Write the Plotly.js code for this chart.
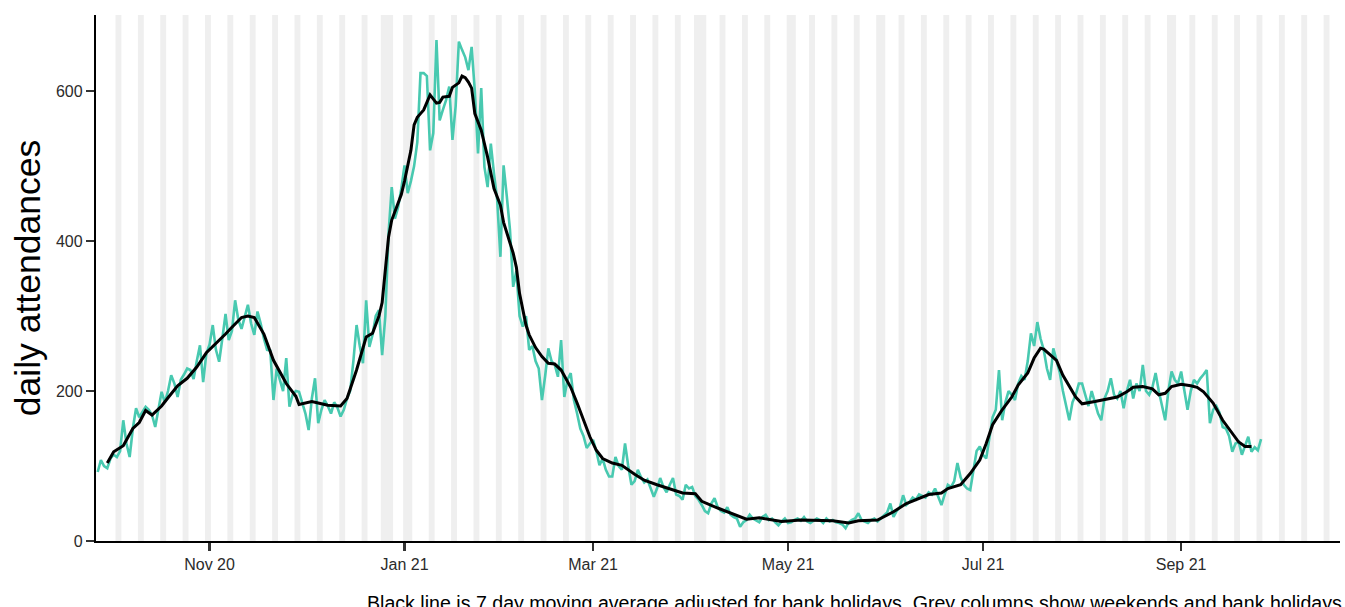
<!DOCTYPE html>
<html><head><meta charset="utf-8">
<script src="https://cdn.plot.ly/plotly-3.0.1.min.js"></script>
<style>body{margin:0;background:#fff;} #chart{width:1345px;height:607px;}</style>
</head><body><div id="chart"></div>
<script>
// ---- data ----
const startDate = '2020-09-27';           // first day of the daily series
// daily attendances, one value per day from startDate (rows = weeks Sun..Sat)
const dailyAttendances = [
  92,108,100,97,110,115,112,
  120,161,130,112,150,177,165,
  172,179,175,168,152,175,199,
  185,200,221,210,192,215,222,
  230,228,216,240,261,212,250,
  262,288,255,239,270,303,268,
  280,321,295,283,300,315,290,
  275,306,290,270,255,254,188,
  230,215,200,244,179,195,200,
  199,185,170,148,190,217,157,
  175,188,180,170,185,178,166,
  175,190,200,240,288,260,237,
  321,259,275,300,308,248,300,
  410,472,430,445,470,501,464,
  480,500,532,624,624,620,521,
  544,668,561,575,588,606,535,
  580,666,655,645,628,659,600,
  517,604,499,472,530,490,455,
  379,501,460,415,339,360,300,
  286,300,255,260,240,230,188,
  220,257,240,235,219,268,192,
  215,224,188,170,150,140,124,
  130,135,120,101,110,95,86,
  86,112,100,95,130,100,75,
  80,95,85,78,82,70,59,
  70,84,72,65,75,84,62,
  60,55,75,70,72,60,55,
  48,40,37,50,57,45,40,
  38,45,35,32,30,19,25,
  28,35,30,27,25,32,35,
  28,30,25,21,26,30,24,
  25,28,30,27,32,26,24,
  27,30,28,24,30,26,28,
  25,24,22,17,25,28,30,
  37,28,26,24,28,30,26,
  30,35,38,50,32,40,45,
  61,48,52,58,55,62,60,
  58,65,62,70,60,48,62,
  75,72,80,104,85,75,70,
  68,95,120,126,115,110,140,
  165,175,228,161,185,200,195,
  188,210,220,215,240,277,260,
  292,270,255,230,215,257,240,
  225,200,180,161,185,195,210,
  210,195,180,200,185,170,161,
  190,200,217,195,190,200,177,
  200,215,190,210,200,235,200,
  195,205,224,200,180,161,200,
  226,215,210,226,200,175,200,
  215,210,217,222,228,157,175,
  180,171,152,150,140,119,130,
  132,115,128,139,119,125,121,
  136
];
// 7 day moving average: day offset from startDate and value
const maDay = [3,5,8,11,13,15,17,20,22,25,28,31,34,36,40,42,45,47,49,52,55,59,62,63,67,70,72,76,78,81,84,86,88,89,90,91,92,93,94,95,96,97,98,99,100,101,102,104,105,106,107,108,110,111,113,114,115,116,117,118,120,122,124,126,127,130,131,132,134,135,137,139,141,143,145,148,150,152,154,156,158,161,164,168,171,175,179,183,187,189,194,197,200,203,207,210,214,220,226,230,235,238,244,246,249,253,258,260,264,266,270,273,276,278,280,283,286,288,291,293,295,296,300,302,306,308,312,315,319,322,324,327,330,332,334,336,339,342,344,346,349,352,355,357,359,361];
const maValue = [104,119,127,150,158,174,168,180,191,207,217,232,251,259,276,285,298,300,298,276,241,210,193,182,186,183,181,180,190,228,272,277,300,318,360,405,428,440,452,462,480,500,521,555,565,570,575,595,590,584,585,592,593,605,611,620,618,612,604,570,548,512,470,448,425,384,365,330,288,275,258,246,237,236,228,205,184,161,139,121,110,104,101,89,81,75,69,64,63,53,44,39,33,29,31,29,26,28,28,27,24,27,28,32,39,50,59,62,64,70,75,90,108,130,155,175,192,208,224,244,257,256,241,221,192,183,186,189,192,199,205,206,203,195,197,206,209,207,205,199,184,161,144,132,126,126];
const bankHolidays = ['2020-12-25','2020-12-28','2021-01-01','2021-04-02','2021-04-05','2021-05-03','2021-05-31','2021-08-30'];
const tickDates = ['2020-11-01','2021-01-01','2021-03-01','2021-05-01','2021-07-01','2021-09-01'];
const tickLabels = ['Nov 20','Jan 21','Mar 21','May 21','Jul 21','Sep 21'];
const yTickValues = [0,200,400,600];
const captionText = 'Black line is 7 day moving average adjusted for bank holidays. Grey columns show weekends and bank holidays';

// ---- helpers ----
const DAY = 864e5;
const t0 = Date.parse(startDate + 'T00:00:00Z');
function dayStr(d){ return new Date(t0 + d*DAY).toISOString().replace('T',' ').replace('Z',''); }
function isoDay(ms){ return new Date(ms).toISOString().slice(0,10); }

const dailyDates = dailyAttendances.map((_, i) => dayStr(i).slice(0,10));
const maDates = maDay.map(d => dayStr(d).slice(0,10));

// grey columns: weekends + bank holidays, merged into runs
const colStart = Date.parse('2020-10-03T00:00:00Z');
const colEnd = Date.parse('2021-10-17T00:00:00Z');
const greyDays = [];
for (let t = colStart; t <= colEnd; t += DAY) {
  const wd = new Date(t).getUTCDay();
  const s = isoDay(t);
  if (wd === 0 || wd === 6 || bankHolidays.includes(s)) greyDays.push((t - t0)/DAY);
}
const runs = [];
greyDays.forEach(d => {
  const last = runs[runs.length-1];
  if (last && d === last[1] + 1) last[1] = d; else runs.push([d, d]);
});
const shapes = runs.map(r => ({
  type:'rect', xref:'x', yref:'paper', x0: dayStr(r[0]-0.42), x1: dayStr(r[1]+0.42), y0:0, y1:1,
  fillcolor:'#efefef', line:{width:0}, layer:'below'
}));

const traces = [
  {x: dailyDates, y: dailyAttendances, type:'scatter', mode:'lines',
   line:{color:'#48c9b0', width:2.6}, hoverinfo:'skip', showlegend:false},
  {x: maDates, y: maValue, type:'scatter', mode:'lines',
   line:{color:'#000000', width:3}, hoverinfo:'skip', showlegend:false}
];

const tickFont = {family:'Liberation Sans, Arial, sans-serif', size:16, color:'#2b2b2b'};
const layout = {
  width:1345, height:607,
  margin:{l:96, r:5, t:15, b:66},
  paper_bgcolor:'#ffffff', plot_bgcolor:'#ffffff',
  showlegend:false,
  font:{family:'Liberation Sans, Arial, sans-serif'},
  xaxis:{type:'date', range:[dayStr(-0.53), dayStr(388.7)], showgrid:false, zeroline:false,
    showline:true, linecolor:'#000', linewidth:2.2, ticks:'outside', ticklen:8, tickwidth:2.2, tickcolor:'#333',
    tickmode:'array', tickvals:tickDates, ticktext:tickLabels, tickfont:tickFont},
  yaxis:{range:[0,701.5], showgrid:false, zeroline:false,
    showline:true, linecolor:'#000', linewidth:2.2, ticks:'outside', ticklen:8, tickwidth:2.2, tickcolor:'#333',
    tickmode:'array', tickvals:yTickValues, ticktext:yTickValues.map(String), tickfont:tickFont,
    title:{text:'daily attendances', font:{size:35.5, color:'#000', family:'Liberation Sans, Arial, sans-serif'}, standoff:5}},
  shapes: shapes,
  annotations:[{text:captionText, xref:'paper', yref:'paper', x:1.003, y:-0.093, xanchor:'right', yanchor:'top',
    showarrow:false, font:{size:19.6, color:'#000', family:'Liberation Sans, Arial, sans-serif'}}]
};
Plotly.newPlot('chart', traces, layout, {displayModeBar:false, staticPlot:true});
</script></body></html>
